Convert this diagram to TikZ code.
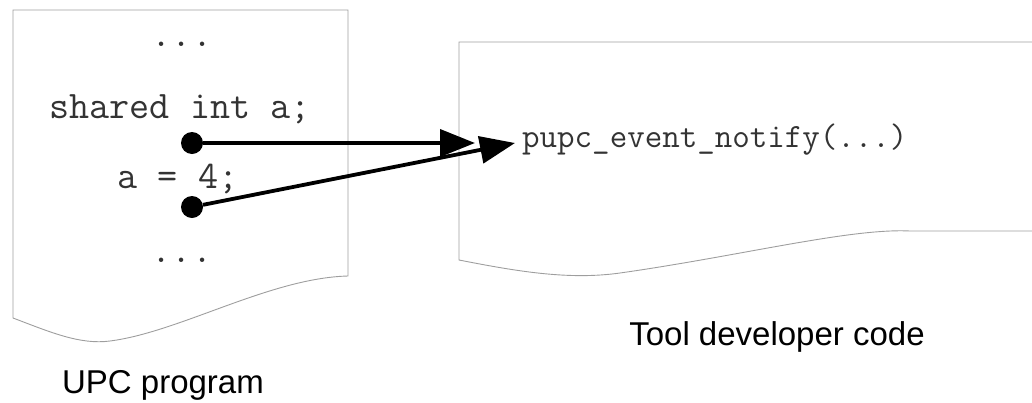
\documentclass[tikz,border=0pt]{standalone}
\usepackage{fontspec}
\setsansfont{Liberation Sans}
\usepackage{tikz}
\usetikzlibrary{arrows.meta}
\usetikzlibrary{positioning}

\definecolor{pagegray}{gray}{0.62}
\definecolor{codegray}{gray}{0.2}

\begin{document}
\begin{tikzpicture}[
	x=1pt, y=-1pt
]
\tikzset{
    page/.style = {draw=pagegray, line width=0.9pt},
    code/.style = {font=\ttfamily\fontsize{39}{39}\selectfont, text=codegray, anchor=base, inner sep=0pt},
    smallcode/.style = {code, font=\ttfamily\fontsize{34}{34}\selectfont, anchor=base west},
    caption/.style = {font=\sffamily\fontsize{33}{33}\selectfont, anchor=base, inner sep=0pt},
    dot/.style = {circle, fill=black, minimum size=22pt, inner sep=0pt},
    link/.style = {line width=3.8pt, -{Triangle[length=35pt,width=27pt]}}
}
\useasboundingbox (0,0) rectangle (1032,402);

% the two torn pages
\draw[page] (348,276) -- (348,10) -- (13,10) -- (13,318)
    .. controls (50,332) and (80,345) .. (110,341)
    .. controls (180,332) and (270,278) .. cycle;
\draw[page] (1032,42) -- (459,42) -- (459,260)
    .. controls (520,272) and (570,280) .. (620,273)
    .. controls (740,256) and (850,228) .. (910,231) -- (1032,231);

% program text
\node[code] (dotsA) at (182,46) {...};
\node[code] (decl) at (180,118) {shared int a;};
\node[code] (assign) at (178,188) {a = 4;};
\node[code] (dotsB) at (182,262) {...};
\node[smallcode] (notify) at (522,147) {pupc\_event\_notify(...)};

\node[caption] (upc) at (163,393) {UPC program};
\node[caption] (tool) at (777,345) {Tool developer code};

% events
\node[dot] (readA) at (192,143) {};
\node[dot] (writeA) at (192,207) {};
\coordinate (hookA) at (475,143);
\coordinate (hookB) at (515,143);
\draw[link] (readA) -- (hookA);
\draw[link] (writeA) -- (hookB);
\end{tikzpicture}
\end{document}
